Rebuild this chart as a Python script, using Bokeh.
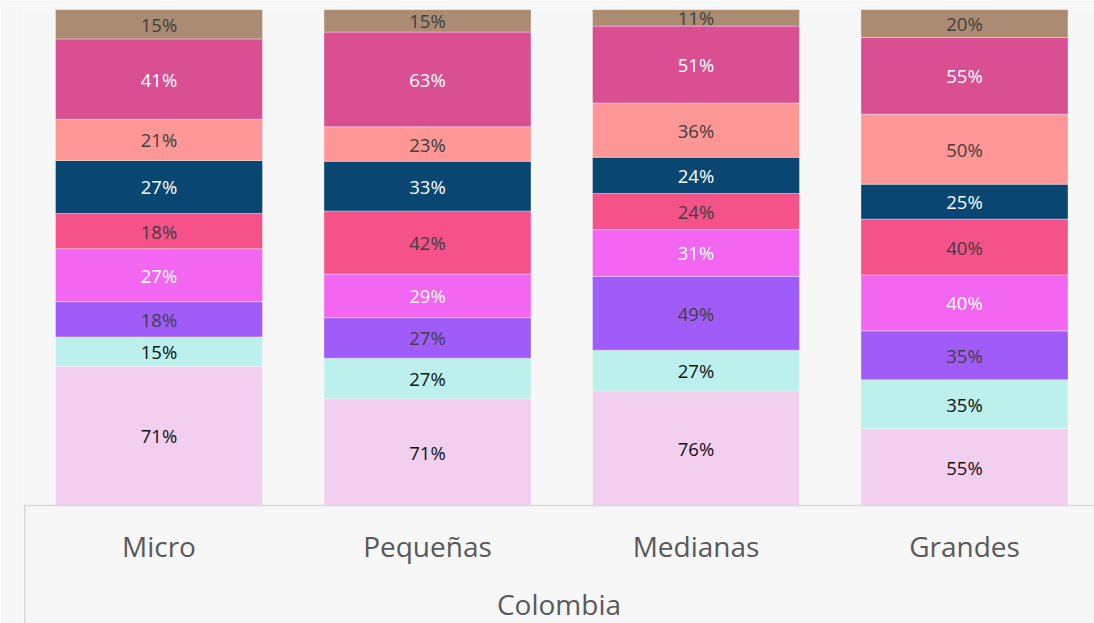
import numpy as np
from bokeh.plotting import figure
from bokeh.models import ColumnDataSource, Range1d, FixedTicker
from bokeh.core.properties import value
from bokeh.embed import file_html
from bokeh.resources import INLINE

# ---------------- data ----------------
categories = ["Micro", "Pequeñas", "Medianas", "Grandes"]
group_label = "Colombia"

# series, from bottom of the stack to the top (values per category)
serie_1 = [71, 71, 76, 55]   # light pink
serie_2 = [15, 27, 27, 35]   # light cyan
serie_3 = [18, 27, 49, 35]   # purple
serie_4 = [27, 29, 31, 40]   # violet-pink
serie_5 = [18, 42, 24, 40]   # pink-red
serie_6 = [27, 33, 24, 25]   # navy
serie_7 = [21, 23, 36, 50]   # salmon
serie_8 = [41, 63, 51, 55]   # magenta
serie_9 = [15, 15, 11, 20]   # brown

series = [serie_1, serie_2, serie_3, serie_4, serie_5,
          serie_6, serie_7, serie_8, serie_9]

colors = ["#f2cfee", "#bbf0ec", "#a05cf9", "#f366f1", "#f45289",
          "#094672", "#fe9795", "#da4f92", "#ab8c73"]
label_colors = ["#111111", "#111111", "#404040", "#ffffff", "#404040",
                "#ffffff", "#404040", "#ffffff", "#404040"]

# ---------------- layout ----------------
BG = "#f7f7f7"
vals = np.array(series, dtype=float)
totals = vals.sum(axis=0)
frac = vals / totals
tops = np.cumsum(frac, axis=0)
bottoms = tops - frac
xs = np.arange(len(categories)) + 0.5

y_bottom = -0.2379

p = figure(width=1094, height=623, output_backend="svg", toolbar_location=None,
           x_range=Range1d(-0.00466, 3.9842), y_range=Range1d(y_bottom, 1.0),
           min_border_left=23, min_border_right=0, min_border_top=9,
           min_border_bottom=0)
p.background_fill_color = BG
p.border_fill_color = BG
p.outline_line_color = None
p.xgrid.visible = False
p.ygrid.visible = False
p.yaxis.visible = False

for i, s in enumerate(series):
    src = ColumnDataSource(dict(x=xs, bottom=bottoms[i], top=tops[i]))
    p.vbar(x="x", bottom="bottom", top="top", width=0.771, source=src,
           fill_color=colors[i], line_color="white", line_alpha=0.35,
           line_width=1)

lx, ly, lt, lc = [], [], [], []
for i, s in enumerate(series):
    for j, v in enumerate(s):
        lx.append(xs[j])
        ly.append((bottoms[i][j] + tops[i][j]) / 2)
        lt.append(f"{v}%")
        lc.append(label_colors[i])
lsrc = ColumnDataSource(dict(x=lx, y=ly, text=lt, color=lc))
p.text(x="x", y="y", text="text", text_color="color", source=lsrc,
       text_align="center", text_baseline="middle",
       text_font=value("Open Sans"), text_font_size="18.5px")

# left border of the category box
p.segment(x0=[0], y0=[y_bottom], x1=[0], y1=[0],
          line_color="#d9d9d9", line_width=1.5)

ax = p.xaxis[0]
ax.fixed_location = 0
ax.ticker = FixedTicker(ticks=list(xs))
ax.major_label_overrides = {float(x): c for x, c in zip(xs, categories)}
ax.major_tick_line_color = None
ax.minor_tick_line_color = None
ax.axis_line_color = "#d9d9d9"
ax.axis_line_width = 1.5
ax.major_label_text_font = "Open Sans"
ax.major_label_text_font_size = "28px"
ax.major_label_text_color = "#595959"
ax.major_label_standoff = 15
ax.axis_label = group_label
ax.axis_label_text_font = "Open Sans"
ax.axis_label_text_font_size = "28px"
ax.axis_label_text_font_style = "normal"
ax.axis_label_text_color = "#595959"
ax.axis_label_standoff = 17

html = file_html(p, INLINE, title="Colombia")
html = html.replace("<body>", '<body style="background-color:#f7f7f7;">', 1)
open("out.html", "w").write(html)
